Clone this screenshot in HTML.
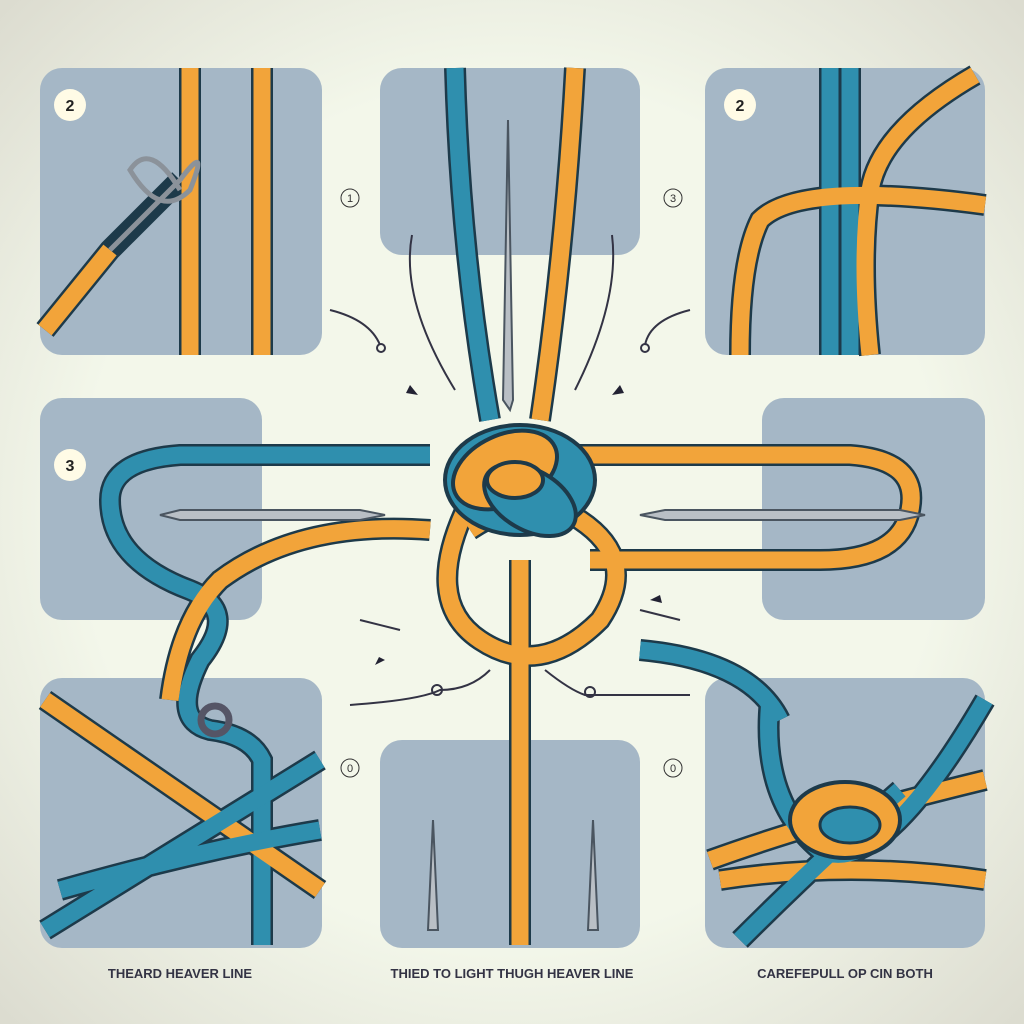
<!DOCTYPE html>
<html><head><meta charset="utf-8"><style>
html,body{margin:0;padding:0;width:1024px;height:1024px;overflow:hidden;background:#eef1e6}
svg{display:block}
text{font-family:"Liberation Sans",sans-serif}
</style></head><body>
<svg width="1024" height="1024" viewBox="0 0 1024 1024" xmlns="http://www.w3.org/2000/svg">
<defs>
<radialGradient id="bg" cx="50%" cy="50%" r="70%">
<stop offset="0.6" stop-color="#f3f7ea"/><stop offset="1" stop-color="#dcdcd0"/></radialGradient>
</defs>
<rect width="1024" height="1024" fill="url(#bg)"/>
<g fill="#a5b7c6">
<rect x="40" y="68" width="282" height="287" rx="22"/>
<rect x="380" y="68" width="260" height="187" rx="22"/>
<rect x="705" y="68" width="280" height="287" rx="22"/>
<rect x="40" y="398" width="222" height="222" rx="22"/>
<rect x="762" y="398" width="223" height="222" rx="22"/>
<rect x="40" y="678" width="282" height="270" rx="22"/>
<rect x="380" y="740" width="260" height="208" rx="22"/>
<rect x="705" y="678" width="280" height="270" rx="22"/>
</g>
<g fill="none" stroke-linecap="butt">
<g stroke="#1d3a4a" stroke-width="22">
<path d="M190 68 V355 M262 68 V355"/>
<path d="M45 330 L110 250 L180 180"/>
<path d="M455 68 Q460 250 490 420 M575 68 Q565 250 540 420"/>
<path d="M830 68 V355 M850 68 V355 M975 75 Q880 130 870 190 Q860 260 870 355"/>
<path d="M985 205 Q800 180 760 220 Q740 260 740 355"/>
<path d="M430 455 H180 Q110 460 110 500 Q110 560 190 590 Q240 610 200 660 Q170 720 210 730 Q250 735 262 760 V945"/>
<path d="M430 530 Q300 520 220 580 Q180 620 170 700"/>
<path d="M540 455 H850 Q920 460 910 510 Q900 560 820 560 H590"/>
<path d="M520 560 V945"/>
<path d="M470 500 Q420 600 480 640 Q540 680 600 620 Q640 560 580 520 Q530 490 470 530"/>
<path d="M45 700 L320 890 M45 930 L320 760 M60 890 Q200 850 320 830"/>
<path d="M710 860 Q820 820 985 780 M720 880 Q850 860 985 880 M770 700 Q760 800 820 850 Q880 880 985 700 M740 940 Q820 860 900 790 M640 650 Q750 660 780 720"/>
</g>
<g stroke-width="17">
<path stroke="#f2a43a" d="M190 68 V355 M262 68 V355"/>
<path stroke="#f2a43a" d="M45 330 L110 250"/>
<path stroke="#8b929a" stroke-width="5" d="M110 250 L180 180 Q210 140 190 190 Q160 220 130 170 Q150 140 180 190"/>
<path stroke="#2f8fae" d="M455 68 Q460 250 490 420"/>
<path stroke="#f2a43a" d="M575 68 Q565 250 540 420"/>
<path stroke="#2f8fae" d="M830 68 V355 M850 68 V355"/>
<path stroke="#f2a43a" d="M975 75 Q880 130 870 190 Q860 260 870 355"/>
<path stroke="#f2a43a" d="M985 205 Q800 180 760 220 Q740 260 740 355"/>
<path stroke="#2f8fae" d="M430 455 H180 Q110 460 110 500 Q110 560 190 590 Q240 610 200 660 Q170 720 210 730 Q250 735 262 760 V945"/>
<path stroke="#f2a43a" d="M430 530 Q300 520 220 580 Q180 620 170 700"/>
<path stroke="#f2a43a" d="M540 455 H850 Q920 460 910 510 Q900 560 820 560 H590"/>
<path stroke="#f2a43a" d="M520 560 V945"/>
<path stroke="#f2a43a" d="M470 500 Q420 600 480 640 Q540 680 600 620 Q640 560 580 520 Q530 490 470 530"/>
<path stroke="#f2a43a" d="M45 700 L320 890"/>
<path stroke="#2f8fae" d="M45 930 L320 760 M60 890 Q200 850 320 830"/>
<path stroke="#f2a43a" d="M710 860 Q820 820 985 780 M720 880 Q850 860 985 880"/>
<path stroke="#2f8fae" d="M770 700 Q760 800 820 850 Q880 880 985 700 M740 940 Q820 860 900 790 M640 650 Q750 660 780 720"/>
</g>
</g>
<g stroke="#1d3a4a" stroke-width="4">
<ellipse cx="520" cy="480" rx="75" ry="55" fill="#2f8fae"/>
<ellipse cx="505" cy="470" rx="55" ry="35" fill="#f2a43a" transform="rotate(-25 505 470)"/>
<ellipse cx="530" cy="500" rx="50" ry="30" fill="#2f8fae" transform="rotate(30 530 500)"/>
<ellipse cx="515" cy="480" rx="28" ry="18" fill="#f2a43a"/>
</g>
<ellipse cx="845" cy="820" rx="55" ry="38" fill="#f2a43a" stroke="#1d3a4a" stroke-width="4"/>
<ellipse cx="850" cy="825" rx="30" ry="18" fill="#2f8fae" stroke="#1d3a4a" stroke-width="3"/>
<circle cx="215" cy="720" r="14" fill="none" stroke="#556" stroke-width="7"/>
<g fill="#b9bfc5" stroke="#4a5560" stroke-width="2">
<path d="M160 515 L180 510 H360 L385 515 L360 520 H180 Z"/>
<path d="M640 515 L665 510 H900 L925 515 L900 520 H665 Z"/>
<path d="M508 120 L513 400 L510 410 L503 400 Z"/>
<path d="M433 820 L438 930 H428 Z"/>
<path d="M593 820 L598 930 H588 Z"/>
</g>
<g fill="none" stroke="#334" stroke-width="2">
<path d="M330 310 Q370 320 380 345"/><circle cx="381" cy="348" r="4"/>
<path d="M690 310 Q650 320 645 345"/><circle cx="645" cy="348" r="4"/>
<path d="M412 235 Q400 300 455 390"/><path d="M612 235 Q620 300 575 390"/>
<path d="M350 705 Q420 700 440 690 Q470 690 490 670"/><circle cx="437" cy="690" r="5"/>
<path d="M545 670 Q570 690 585 695 H690"/><circle cx="590" cy="692" r="5"/>
<path d="M360 620 L400 630"/><path d="M640 610 L680 620"/>
</g>
<g fill="#223"><path d="M410 385 l8 10 l-12 -2z"/><path d="M620 385 l-8 10 l12 -2z"/><path d="M375 665 l10 -5 l-6 -3z"/><path d="M650 600 l10 -5 l2 8z"/></g>
<g font-weight="bold" font-size="16" text-anchor="middle" fill="#222">
<circle cx="70" cy="105" r="16" fill="#fffbe6"/><text x="70" y="111">2</text>
<circle cx="740" cy="105" r="16" fill="#fffbe6"/><text x="740" y="111">2</text>
<circle cx="70" cy="465" r="16" fill="#fffbe6"/><text x="70" y="471">3</text>
</g>
<g font-size="11" text-anchor="middle" fill="#333">
<circle cx="350" cy="198" r="9" fill="none" stroke="#333"/><text x="350" y="202">1</text>
<circle cx="673" cy="198" r="9" fill="none" stroke="#333"/><text x="673" y="202">3</text>
<circle cx="350" cy="768" r="9" fill="none" stroke="#333"/><text x="350" y="772">0</text>
<circle cx="673" cy="768" r="9" fill="none" stroke="#333"/><text x="673" y="772">0</text>
</g>
<g font-size="13" font-weight="bold" fill="#334" text-anchor="middle">
<text x="180" y="978">THEARD HEAVER LINE</text>
<text x="512" y="978">THIED TO LIGHT THUGH HEAVER LINE</text>
<text x="845" y="978">CAREFEPULL OP CIN BOTH</text>
</g>
</svg>
</body></html>
